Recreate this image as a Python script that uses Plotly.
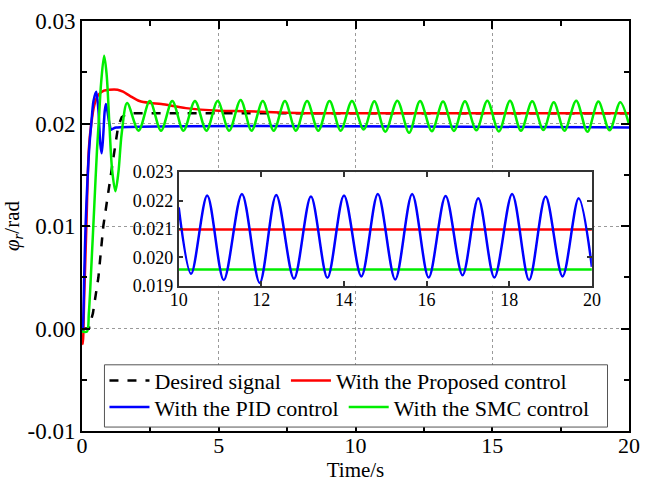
import plotly.graph_objects as go

# ---------------- data ----------------
desired_t = [0, 0.25, 0.4, 0.6, 0.78, 0.96, 1.1, 1.32, 1.45, 1.6, 1.8, 20]
desired_y = [0, 0, 0.0015, 0.005, 0.0100, 0.0135, 0.0158, 0.0197, 0.0206, 0.0209, 0.0210, 0.0210]

proposed_t = [0, 0.03, 0.08, 0.16, 0.25, 0.34, 0.45, 0.6, 0.8, 1.0, 1.3, 1.5, 1.75, 2.1,
              2.5, 2.9, 3.8, 5.0, 6.0, 7.0, 8.5, 10, 20]
proposed_y = [-0.0008, -0.0015, 0.003, 0.010, 0.0175, 0.0200, 0.0218, 0.0228, 0.0232, 0.0233,
              0.0233, 0.0231, 0.0227, 0.0222, 0.0220, 0.0219, 0.0215, 0.02125, 0.0212, 0.0211,
              0.0210, 0.0210, 0.0210]

pid_t = [0, 0.03, 0.08, 0.13, 0.2, 0.27, 0.34, 0.42, 0.52, 0.6, 0.67, 0.72, 0.78, 0.83,
         0.875, 0.93, 1.0, 1.07, 1.14, 1.25, 20]
pid_y = [-0.0003, 0.0, 0.005, 0.010, 0.0145, 0.0178, 0.0200, 0.0222, 0.0231, 0.0213, 0.0180,
         0.0171, 0.0190, 0.0212, 0.0219, 0.0212, 0.0200, 0.0194, 0.0195, 0.0196, 0.0196]

smc_t = [0, 0.18, 0.25, 0.35, 0.45, 0.55, 0.62, 0.7, 0.81, 0.9, 1.0, 1.1, 1.22, 1.33, 1.45,
         1.65, 2.07, 2.48, 2.89, 3.30, 3.71, 4.13, 4.55, 4.96, 5.38, 5.80, 6.20, 6.61, 7.01,
         7.42, 7.82, 8.23, 8.64, 9.05, 9.46, 9.87, 10.30, 10.69, 11.09, 11.53, 11.96, 12.36,
         12.79, 13.20, 13.60, 14.00, 14.42, 14.82, 15.24, 15.65, 16.05, 16.46, 16.87, 17.25,
         17.64, 18.07, 18.48, 18.88, 19.29, 19.68, 20.0]
smc_y = [-0.0003, -0.0003, 0.0015, 0.0065, 0.0120, 0.0175, 0.0205, 0.0240, 0.0266, 0.0248,
         0.0200, 0.0155, 0.0134, 0.0152, 0.0190, 0.0220, 0.0193, 0.0222, 0.0193, 0.0222,
         0.0193, 0.0222, 0.0193, 0.0222, 0.0193, 0.0223, 0.0193, 0.0222, 0.0193, 0.0222,
         0.0193, 0.0222, 0.0193, 0.0222, 0.0193, 0.0222, 0.01942, 0.02218, 0.0192, 0.02223,
         0.0191, 0.0222, 0.01925, 0.02214, 0.01928, 0.02218, 0.01933, 0.02223, 0.01922,
         0.02223, 0.01929, 0.02216, 0.01937, 0.02208, 0.01929, 0.02223, 0.0192, 0.02214,
         0.01933, 0.02208, 0.0199]

# inset (10–20 s)
inset_t = [10.0, 10.30, 10.69, 11.09, 11.53, 11.96, 12.36, 12.79, 13.20, 13.60, 14.00, 14.42,
           14.82, 15.24, 15.65, 16.05, 16.46, 16.87, 17.25, 17.64, 18.07, 18.48, 18.88, 19.29,
           19.68, 20.0]
inset_blue_y = [0.02176, 0.01942, 0.02218, 0.0192, 0.02223, 0.0191, 0.0222, 0.01925, 0.02214,
                0.01928, 0.02218, 0.01933, 0.02223, 0.01922, 0.02223, 0.01929, 0.02216,
                0.01937, 0.02208, 0.01929, 0.02223, 0.0192, 0.02214, 0.01933, 0.02208, 0.01967]
inset_flat_t = [10, 20]
inset_red_y = [0.02098, 0.02098]
inset_green_y = [0.01957, 0.01957]

y_tickvals = [-0.01, 0.0, 0.01, 0.02, 0.03]
y_ticktext = ["-0.01", "0.00", "0.01", "0.02", "0.03"]
x_tickvals = [0, 5, 10, 15, 20]
inset_y_tickvals = [0.019, 0.020, 0.021, 0.022, 0.023]
inset_y_ticktext = ["0.019", "0.020", "0.021", "0.022", "0.023"]
inset_x_tickvals = [10, 12, 14, 16, 18, 20]

FONT = "Liberation Serif, Times New Roman, serif"
RED, BLUE, GREEN = "#ff0000", "#0000ff", "#00ee00"
LW = 2.5

fig = go.Figure()

fig.add_trace(go.Scatter(x=desired_t, y=desired_y, mode="lines", name="Desired signal",
                         line=dict(color="black", width=LW, dash="dash"), legend="legend"))
fig.add_trace(go.Scatter(x=proposed_t, y=proposed_y, mode="lines", name="With the Proposed control",
                         line=dict(color=RED, width=LW, shape="spline", smoothing=0.8), legend="legend"))
fig.add_trace(go.Scatter(x=pid_t, y=pid_y, mode="lines", name="With the PID control",
                         line=dict(color=BLUE, width=LW, shape="spline", smoothing=0.8), legend="legend2"))
fig.add_trace(go.Scatter(x=smc_t, y=smc_y, mode="lines", name="With the SMC control",
                         line=dict(color=GREEN, width=LW, shape="spline", smoothing=0.9), legend="legend2"))

# inset traces
fig.add_trace(go.Scatter(x=inset_flat_t, y=inset_red_y, mode="lines", showlegend=False,
                         line=dict(color=RED, width=LW), xaxis="x2", yaxis="y2"))
fig.add_trace(go.Scatter(x=inset_flat_t, y=inset_green_y, mode="lines", showlegend=False,
                         line=dict(color=GREEN, width=LW), xaxis="x2", yaxis="y2"))
fig.add_trace(go.Scatter(x=inset_t, y=inset_blue_y, mode="lines", showlegend=False,
                         line=dict(color=BLUE, width=LW, shape="spline", smoothing=0.9),
                         xaxis="x2", yaxis="y2"))

W, H = 649, 491
ML, MR, MT, MB = 80, 9, 16, 60
pw, ph = W - ML - MR, H - MT - MB


def px_x(p):
    return (p - ML) / pw


def px_y(p):
    return (H - MB - p) / ph


fig.update_layout(
    width=W, height=H,
    margin=dict(l=ML, r=MR, t=MT, b=MB),
    paper_bgcolor="white", plot_bgcolor="white",
    font=dict(family=FONT, color="black", size=22),
    xaxis=dict(range=[0, 20], tickvals=x_tickvals, ticks="inside", ticklen=8, tickwidth=2,
               tickcolor="black", showline=True, linewidth=2, linecolor="black",
               mirror="allticks", showgrid=True, gridcolor="#9a9a9a", griddash="dot",
               gridwidth=1, zeroline=False, tickfont=dict(size=22), ticklabelstandoff=-6,
               minor=dict(dtick=2.5, ticks="inside", ticklen=5, tickwidth=2, tickcolor="black",
                          showgrid=False),
               title=dict(text="Time/s", font=dict(size=21), standoff=2)),
    yaxis=dict(range=[-0.01, 0.03], tickvals=y_tickvals, ticktext=y_ticktext, ticks="inside",
               ticklen=8, tickwidth=2, tickcolor="black", showline=True, linewidth=2,
               linecolor="black", mirror="allticks", showgrid=True, gridcolor="#9a9a9a",
               griddash="dot", gridwidth=1, zeroline=False, tickfont=dict(size=23),
               minor=dict(dtick=0.005, ticks="inside", ticklen=5, tickwidth=2,
                          tickcolor="black", showgrid=False),
               title=dict(text="<i>φ<sub>r</sub></i>/rad", font=dict(size=21), standoff=4)),
    xaxis2=dict(domain=[px_x(179), px_x(602)], anchor="y2", range=[10, 20],
                tickvals=inset_x_tickvals, ticks="inside", ticklen=5, tickwidth=1.5,
                tickcolor="#333", showline=True, linewidth=1.5, linecolor="#333",
                mirror="allticks", showgrid=False, zeroline=False, tickfont=dict(size=18),
                ticklabelstandoff=-3),
    yaxis2=dict(domain=[px_y(284), px_y(169)], anchor="x2", range=[0.019, 0.023],
                tickvals=inset_y_tickvals, ticktext=inset_y_ticktext, ticks="inside",
                ticklen=5, tickwidth=1.5, tickcolor="#333", showline=True, linewidth=1.5,
                linecolor="#333", mirror="allticks", showgrid=False, zeroline=False,
                tickfont=dict(size=18)),
    legend=dict(orientation="h", x=px_x(103), y=px_y(380), xanchor="left", yanchor="middle",
                bgcolor="rgba(0,0,0,0)", borderwidth=0, font=dict(size=22),
                itemwidth=40, tracegroupgap=0),
    legend2=dict(orientation="h", x=px_x(103), y=px_y(407), xanchor="left", yanchor="middle",
                 bgcolor="rgba(0,0,0,0)", borderwidth=0, font=dict(size=22),
                 itemwidth=40, tracegroupgap=0),
    shapes=[dict(type="rect", xref="paper", yref="paper",
                 x0=px_x(103), x1=px_x(618), y0=px_y(427), y1=px_y(364),
                 line=dict(color="#555", width=1), fillcolor="white", layer="above")],
)

fig.write_html("out.html")
